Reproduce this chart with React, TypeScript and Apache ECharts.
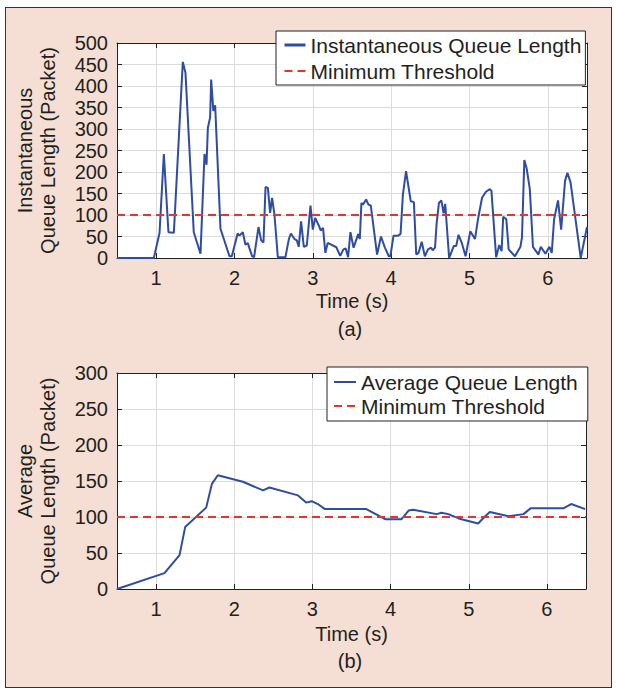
import React, { useEffect, useRef } from "react";
import * as echarts from "echarts";

const instTime = [0.5, 0.97, 1.043, 1.098, 1.157, 1.226, 1.34, 1.374, 1.48, 1.566, 1.617, 1.643, 1.66, 1.689, 1.702, 1.73, 1.753, 1.821, 1.936, 1.966, 2.04, 2.064, 2.106, 2.14, 2.17, 2.19, 2.225, 2.25, 2.306, 2.34, 2.37, 2.396, 2.426, 2.455, 2.48, 2.51, 2.553, 2.65, 2.694, 2.72, 2.766, 2.796, 2.82, 2.85, 2.885, 2.923, 2.97, 3.0, 3.03, 3.08, 3.1, 3.13, 3.16, 3.19, 3.3, 3.35, 3.39, 3.42, 3.45, 3.48, 3.52, 3.58, 3.6, 3.62, 3.64, 3.68, 3.71, 3.74, 3.82, 3.87, 3.92, 3.97, 3.99, 4.03, 4.09, 4.12, 4.15, 4.19, 4.25, 4.29, 4.32, 4.35, 4.39, 4.43, 4.47, 4.51, 4.53, 4.56, 4.58, 4.61, 4.64, 4.67, 4.69, 4.74, 4.8, 4.83, 4.86, 4.9, 4.95, 5.01, 5.07, 5.11, 5.16, 5.21, 5.26, 5.28, 5.34, 5.38, 5.41, 5.43, 5.47, 5.5, 5.58, 5.65, 5.67, 5.7, 5.73, 5.77, 5.81, 5.88, 5.91, 5.97, 6.02, 6.05, 6.08, 6.13, 6.17, 6.22, 6.25, 6.29, 6.42, 6.5];
const instValue = [0, 0, 58, 242, 60, 59, 456, 431, 60, 10, 242, 217, 303, 327, 415, 342, 355, 68, 4, 4, 57, 52, 60, 31, 35, 23, 4, 2, 72, 41, 36, 165, 163, 105, 140, 101, 2, 2, 44, 57, 44, 41, 26, 85, 26, 29, 122, 66, 93, 74, 64, 70, 12, 35, 25, 5, 20, 22, 2, 60, 24, 56, 44, 128, 124, 136, 124, 122, 8, 50, 24, 4, 4, 52, 52, 56, 148, 202, 132, 130, 8, 12, 38, 4, 20, 24, 18, 24, 80, 128, 134, 104, 126, 0, 28, 28, 54, 36, 4, 62, 44, 92, 140, 154, 160, 156, 2, 30, 16, 96, 90, 20, 4, 26, 48, 228, 208, 160, 26, 8, 26, 10, 26, 12, 90, 134, 66, 180, 198, 176, 0, 72];

const avgTime = [0.5, 1.107, 1.3, 1.372, 1.641, 1.714, 1.79, 2.11, 2.368, 2.45, 2.816, 2.92, 2.99, 3.07, 3.16, 3.69, 3.93, 4.14, 4.23, 4.29, 4.59, 4.65, 4.74, 4.87, 5.12, 5.21, 5.27, 5.51, 5.7, 5.79, 6.21, 6.31, 6.49];
const avgValue = [0, 22, 47, 86, 113, 146, 158, 149, 137, 141, 130, 120, 122, 118, 111, 111, 97, 97, 109, 110, 104, 106, 104, 98, 91, 101, 107, 101, 104, 112, 112, 118, 111];

const thresholdTime = [0.5, 6.5];
const thresholdValue = [100, 100];

const FONT = "'Liberation Sans', Arial, Helvetica, sans-serif";
const TXT = "#231f20";
const BLUE = "#2f4ca3";
const RED = "#e8342c";

function xAxes(gridIndex: number) {
  const base = {
    gridIndex,
    type: "value",
    min: 0.5,
    max: 6.5,
    splitNumber: 6,
    axisLine: { show: true, onZero: false, lineStyle: { color: "#222", width: 1 } },
    axisTick: { show: true, inside: true, length: 5, lineStyle: { color: "#222" } },
  };
  return [
    {
      ...base,
      position: "bottom",
      name: "Time (s)",
      nameLocation: "middle",
      nameGap: gridIndex === 0 ? 33 : 35,
      nameTextStyle: { fontSize: 20, color: TXT, fontFamily: FONT },
      axisLabel: {
        fontSize: 20,
        color: TXT,
        fontFamily: FONT,
        margin: 10,
        showMinLabel: false,
        showMaxLabel: false,
        formatter: (v: number) => (Number.isInteger(v) ? String(v) : ""),
      },
      splitLine: { show: true, lineStyle: { color: "#dcdcdc", width: 1 } },
    },
    {
      ...base,
      position: "top",
      axisLabel: { show: false },
      splitLine: { show: false },
    },
  ];
}

function yAxes(gridIndex: number, max: number, name: string) {
  const base = {
    gridIndex,
    type: "value",
    min: 0,
    max,
    interval: 50,
    axisLine: { show: true, onZero: false, lineStyle: { color: "#222", width: 1 } },
    axisTick: { show: true, inside: true, length: 5, lineStyle: { color: "#222" } },
  };
  return [
    {
      ...base,
      position: "left",
      name,
      nameLocation: "middle",
      nameRotate: 90,
      nameGap: 58,
      nameTextStyle: { fontSize: 20, color: TXT, fontFamily: FONT, lineHeight: 23, align: "center" },
      axisLabel: { fontSize: 20, color: TXT, fontFamily: FONT, margin: 9 },
      splitLine: { show: true, lineStyle: { color: "#dcdcdc", width: 1 } },
    },
    {
      ...base,
      position: "right",
      axisLabel: { show: false },
      splitLine: { show: false },
    },
  ];
}

const zip = (a: number[], b: number[]) => a.map((t, i) => [t, b[i]]);

export default function App() {
  const ref = useRef<HTMLDivElement>(null);
  useEffect(() => {
    if (!ref.current) return;
    const chart = echarts.init(ref.current, undefined, { renderer: "svg" });
    const legendCommon = {
      orient: "vertical",
      backgroundColor: "#fff",
      borderColor: "#222",
      borderWidth: 1,
      borderRadius: 0,
      itemHeight: 14,
      itemStyle: { opacity: 0 },
      textStyle: { fontSize: 21, color: TXT, fontFamily: FONT, lineHeight: 22 },
      selectedMode: false,
    };
    chart.setOption({
      animation: false,
      grid: [
        { left: 117, top: 43, width: 470, height: 215, backgroundColor: "#fff", show: true, borderWidth: 0 },
        { left: 117, top: 373, width: 469, height: 216, backgroundColor: "#fff", show: true, borderWidth: 0 },
      ],
      xAxis: [...xAxes(0), ...xAxes(1)],
      yAxis: [
        ...yAxes(0, 500, "Instantaneous\nQueue Length (Packet)"),
        ...yAxes(1, 300, "Average\nQueue Length (Packet)"),
      ],
      legend: [
        {
          ...legendCommon,
          left: 276,
          top: 31,
          itemWidth: 21,
          itemGap: 4,
          padding: [3, 4, 3, 7],
          data: [
            { name: "Instantaneous Queue Length", lineStyle: { width: 3 } },
            { name: "Minimum Threshold" },
          ],
        },
        {
          ...legendCommon,
          left: 327,
          top: 367,
          itemWidth: 22,
          itemGap: 2,
          padding: [4, 10, 4, 6],
          data: [{ name: "Average Queue Length" }, { name: "Minimum Threshold" }],
        },
      ],
      series: [
        {
          name: "Instantaneous Queue Length",
          type: "line",
          xAxisIndex: 0,
          yAxisIndex: 0,
          data: zip(instTime, instValue),
          symbol: "none",
          color: BLUE,
          lineStyle: { color: BLUE, width: 2 },
          z: 3,
        },
        {
          name: "Minimum Threshold",
          type: "line",
          xAxisIndex: 0,
          yAxisIndex: 0,
          data: zip(thresholdTime, thresholdValue),
          symbol: "none",
          color: RED,
          lineStyle: { color: RED, width: 2, type: [8, 5] },
          z: 4,
        },
        {
          name: "Average Queue Length",
          type: "line",
          xAxisIndex: 2,
          yAxisIndex: 2,
          data: zip(avgTime, avgValue),
          symbol: "none",
          color: BLUE,
          lineStyle: { color: BLUE, width: 2 },
          z: 3,
        },
        {
          name: "Minimum Threshold",
          type: "line",
          xAxisIndex: 2,
          yAxisIndex: 2,
          data: zip(thresholdTime, thresholdValue),
          symbol: "none",
          color: RED,
          lineStyle: { color: RED, width: 2, type: [8, 5] },
          z: 4,
        },
      ],
      graphic: [
        {
          type: "text",
          x: 350,
          y: 329,
          style: { text: "(a)", fontSize: 20, fontFamily: FONT, fill: TXT, align: "center", verticalAlign: "middle" },
        },
        {
          type: "text",
          x: 350,
          y: 661,
          style: { text: "(b)", fontSize: 20, fontFamily: FONT, fill: TXT, align: "center", verticalAlign: "middle" },
        },
      ],
    });
    return () => chart.dispose();
  }, []);

  return (
    <div style={{ position: "fixed", left: 0, top: 0, width: 617, height: 690, background: "#fff" }}>
      <div
        style={{
          position: "absolute",
          left: 5,
          top: 7,
          width: 607,
          height: 681,
          boxSizing: "border-box",
          background: "#f5dfd4",
          border: "1px solid #333",
        }}
      />
      <div ref={ref} style={{ position: "absolute", left: 0, top: 0, width: 617, height: 690 }} />
    </div>
  );
}
